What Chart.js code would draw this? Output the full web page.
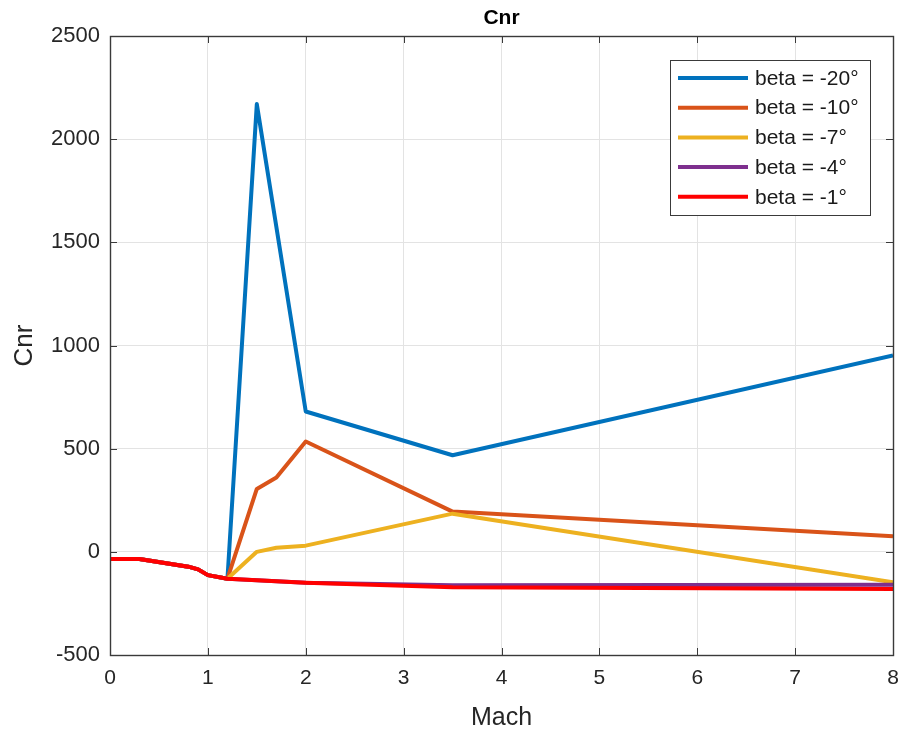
<!DOCTYPE html>
<html>
<head>
<meta charset="utf-8">
<script src="https://cdn.jsdelivr.net/npm/chart.js@4/dist/chart.umd.min.js"></script>
<style>
  html, body { margin: 0; padding: 0; background: #fff; }
  #wrap { width: 903px; height: 733px; }
</style>
</head>
<body>
<div id="wrap"><canvas id="c" width="903" height="733"></canvas></div>
<script>
// Yawing-moment damping derivative Cnr versus Mach for several sideslip angles
const machBeta20 = [0, 0.3, 0.8, 0.9, 1.0, 1.2, 1.5, 2.0, 3.5, 8];
const cnrBeta20  = [-35, -35, -72, -85, -113, -130, 2170, 680, 468, 952];

const machBeta10 = [0, 0.3, 0.8, 0.9, 1.0, 1.2, 1.5, 1.7, 2.0, 3.5, 8];
const cnrBeta10  = [-35, -35, -72, -85, -113, -130, 305, 360, 535, 195, 75];

const machBeta7  = [0, 0.3, 0.8, 0.9, 1.0, 1.2, 1.5, 1.7, 2.0, 3.5, 8];
const cnrBeta7   = [-35, -35, -72, -85, -113, -130, 0, 20, 30, 185, -148];

const machBeta4  = [0, 0.3, 0.8, 0.9, 1.0, 1.2, 2.0, 3.5, 8];
const cnrBeta4   = [-35, -35, -72, -85, -113, -130, -150, -162, -160];

const machBeta1  = [0, 0.3, 0.8, 0.9, 1.0, 1.2, 2.0, 3.5, 8];
const cnrBeta1   = [-35, -35, -72, -85, -113, -130, -150, -172, -180];

const seriesLabels = ['beta = -20°', 'beta = -10°', 'beta = -7°', 'beta = -4°', 'beta = -1°'];
const xTicks = [0, 1, 2, 3, 4, 5, 6, 7, 8];
const yTicks = [-500, 0, 500, 1000, 1500, 2000, 2500];

const colors = ['#0072BD', '#D95319', '#EDB120', '#7E2F8E', '#FF0000'];
const axisColor = '#262626';
const frameColor = '#3a3a3a';
const gridColor = '#e3e3e3';
const FONT = '"Liberation Sans", Arial, Helvetica, sans-serif';

const pairs = (xs, ys) => xs.map((x, i) => ({ x: x, y: ys[i] }));
const allX = [machBeta20, machBeta10, machBeta7, machBeta4, machBeta1];
const allY = [cnrBeta20, cnrBeta10, cnrBeta7, cnrBeta4, cnrBeta1];

const datasets = seriesLabels.map((lab, i) => ({
  label: lab,
  data: pairs(allX[i], allY[i]),
  borderColor: colors[i],
  backgroundColor: colors[i],
  borderWidth: 4,
  borderJoinStyle: 'round',
  borderCapStyle: 'butt',
  pointRadius: 0,
  tension: 0,
  fill: false,
  order: seriesLabels.length - i   // later series painted on top
}));

// Box frame, inward tick marks, title and boxed legend
const framePlugin = {
  id: 'frame',
  afterDatasetsDraw(chart) {
    const { ctx, chartArea: a, scales } = chart;
    ctx.save();
    ctx.strokeStyle = frameColor;
    ctx.lineWidth = 1;
    const tl = 7;
    xTicks.forEach(v => {
      const px = Math.round(scales.x.getPixelForValue(v)) + 0.5;
      ctx.beginPath();
      ctx.moveTo(px, a.bottom); ctx.lineTo(px, a.bottom - tl);
      ctx.moveTo(px, a.top); ctx.lineTo(px, a.top + tl);
      ctx.stroke();
    });
    yTicks.forEach(v => {
      const py = Math.round(scales.y.getPixelForValue(v)) + 0.5;
      ctx.beginPath();
      ctx.moveTo(a.left, py); ctx.lineTo(a.left + tl, py);
      ctx.moveTo(a.right, py); ctx.lineTo(a.right - tl, py);
      ctx.stroke();
    });
    ctx.lineWidth = 1.4;
    ctx.strokeRect(Math.round(a.left) + 0.5, Math.round(a.top) + 0.5,
                   Math.round(a.right - a.left), Math.round(a.bottom - a.top));

    // title
    ctx.fillStyle = '#000';
    ctx.font = 'bold 21px ' + FONT;
    ctx.textAlign = 'center';
    ctx.textBaseline = 'middle';
    ctx.fillText('Cnr', (a.left + a.right) / 2, 18);

    // legend
    const lx = 670, ly = 60, lw = 200, lh = 155;
    ctx.fillStyle = '#fff';
    ctx.fillRect(lx, ly, lw, lh);
    ctx.strokeStyle = frameColor;
    ctx.lineWidth = 1;
    ctx.strokeRect(lx + 0.5, ly + 0.5, lw, lh);
    ctx.font = '21px ' + FONT;
    ctx.textAlign = 'left';
    ctx.textBaseline = 'middle';
    chart.data.datasets.forEach((ds, i) => {
      const yy = 78 + i * 29.7;
      ctx.strokeStyle = ds.borderColor;
      ctx.lineWidth = 4;
      ctx.beginPath();
      ctx.moveTo(678, yy); ctx.lineTo(748, yy);
      ctx.stroke();
      ctx.fillStyle = '#1a1a1a';
      ctx.fillText(ds.label, 755, yy + 1);
    });
    ctx.restore();
  }
};

new Chart(document.getElementById('c'), {
  type: 'line',
  data: { datasets: datasets },
  options: {
    responsive: false,
    animation: false,
    devicePixelRatio: 1,
    layout: { padding: { top: 36, right: 10, left: 0, bottom: 0 } },
    plugins: { legend: { display: false }, title: { display: false }, tooltip: { enabled: false } },
    scales: {
      x: {
        type: 'linear',
        min: 0, max: 8,
        afterBuildTicks(s) { s.ticks = xTicks.map(v => ({ value: v })); },
        afterFit(s) { s.height = 78; s.paddingLeft = 0; s.paddingRight = 0; },
        grid: { color: gridColor, lineWidth: 1, tickLength: 0, drawTicks: false },
        border: { display: false },
        ticks: { color: axisColor, padding: 11, font: { family: FONT, size: 21 }, maxRotation: 0 },
        title: { display: true, text: 'Mach', color: axisColor, font: { family: FONT, size: 25 }, padding: { top: 2, bottom: 0 } }
      },
      y: {
        type: 'linear',
        min: -500, max: 2500,
        afterBuildTicks(s) { s.ticks = yTicks.map(v => ({ value: v })); },
        afterFit(s) { s.width = 110; s.paddingTop = 0; s.paddingBottom = 0; },
        grid: { color: gridColor, lineWidth: 1, tickLength: 0, drawTicks: false },
        border: { display: false },
        ticks: { color: axisColor, padding: 10, font: { family: FONT, size: 22 }, callback: v => String(v) },
        title: { display: true, text: 'Cnr', color: axisColor, font: { family: FONT, size: 26 }, padding: { top: 9, bottom: 0 } }
      }
    }
  },
  plugins: [framePlugin]
});
</script>
</body>
</html>
